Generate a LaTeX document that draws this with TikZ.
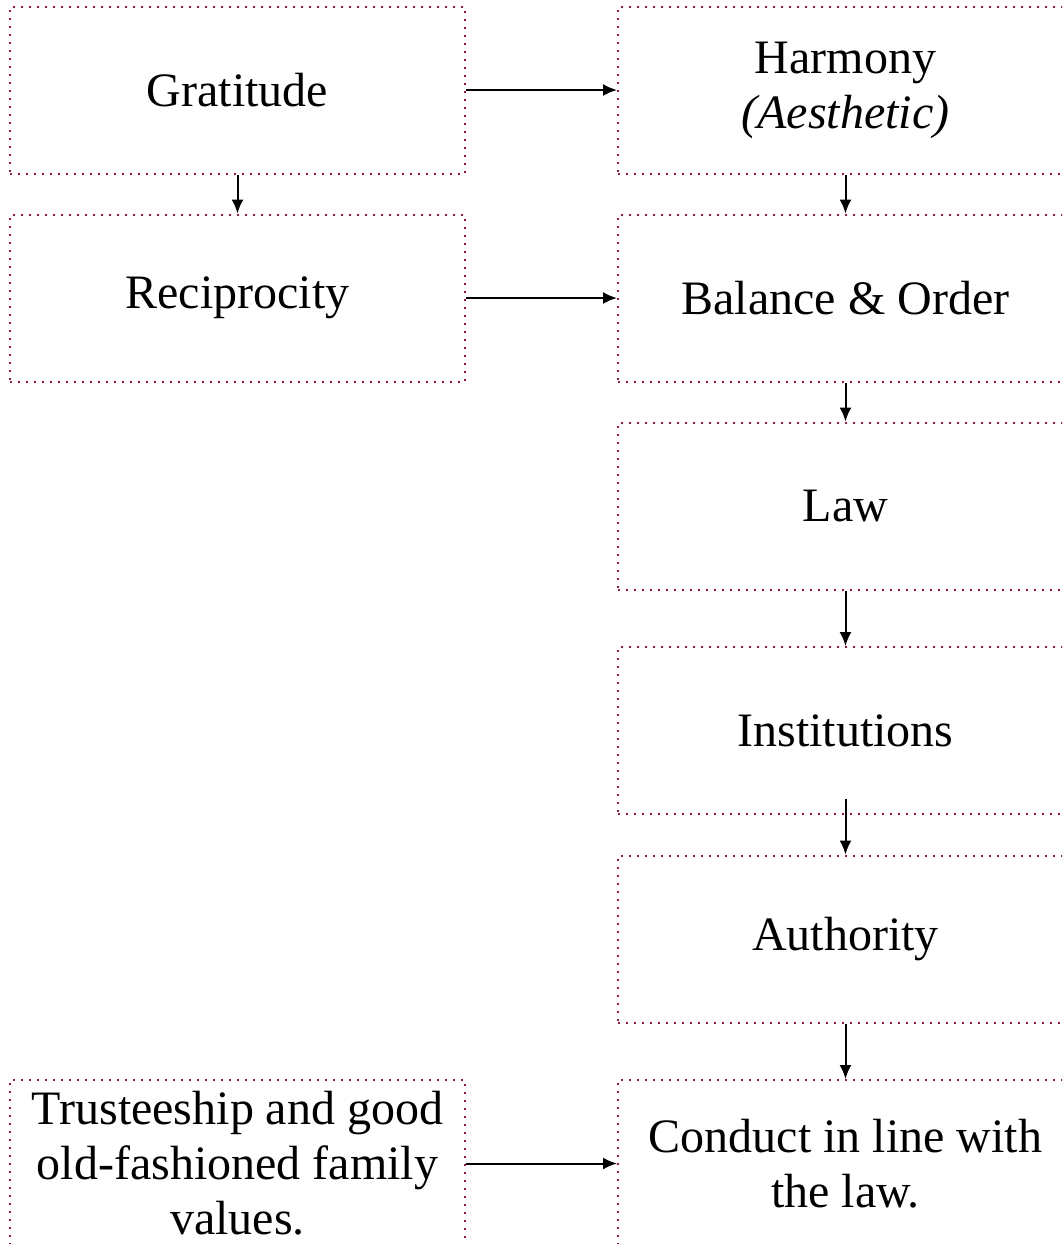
\documentclass[tikz,border=0pt]{standalone}
\usepackage{fontspec}
\setmainfont{Liberation Serif}
\usetikzlibrary{arrows.meta}
\definecolor{box-dot}{HTML}{8E1A4B}

\begin{document}
\begin{tikzpicture}[x=0.5pt, y=-0.5pt,
      every node/.style={font=\fontsize{24}{27.5}\selectfont},
      box/.style={draw=box-dot, line width=1pt, dash pattern=on 1pt off 3pt,
                  minimum width=227.5pt, minimum height=83.5pt, inner sep=0pt, align=center},
      arr/.style={-{Latex[length=7pt, width=6pt]}, line width=1pt, black}]
    \useasboundingbox (0,0) rectangle (1062,1244);
    \clip (0,0) rectangle (1062,1244);
    % left column
    \node[box] (grat) at (237.5,90) {Gratitude};
    \node[box] (recip) at (237.5,298) {Reciprocity};
    \node[box] (trust) at (237.5,1163.5) {Trusteeship and good\\old-fashioned family\\values.};
    % right column
    \node[box] (harm) at (845.5,90) {Harmony\\\textit{(Aesthetic)}};
    \node[box] (bal) at (845.5,298) {Balance \& Order};
    \node[box] (law) at (845.5,506) {Law};
    \node[box] (inst) at (845.5,730.5) {Institutions};
    \node[box] (auth) at (845.5,939) {Authority};
    \node[box] (cond) at (845.5,1163.5) {Conduct in line with\\the law.};
    % connectors
    \draw[arr] (grat.east) -- (harm.west);
    \draw[arr] (recip.east) -- (bal.west);
    \draw[arr] (trust.east) -- (cond.west);
    \draw[arr] (grat.south) -- (recip.north);
    \draw[arr] (harm.south) -- (bal.north);
    \draw[arr] (bal.south) -- (law.north);
    \draw[arr] (law.south) -- (inst.north);
    \draw[arr] ([yshift=8pt]inst.south) -- (auth.north);
    \draw[arr] (auth.south) -- (cond.north);
  \end{tikzpicture}
\end{document}
